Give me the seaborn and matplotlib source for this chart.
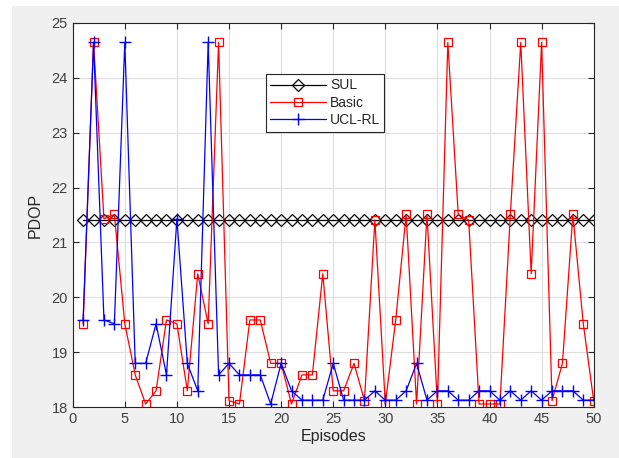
import numpy as np
import pandas as pd
import matplotlib
matplotlib.use("Agg")
import matplotlib.pyplot as plt
import seaborn as sns

episodes = list(range(1, 51))

sul = [21.4] * 50

basic = [19.52, 24.64, 21.43, 21.51, 19.52, 18.59, 18.06, 18.30, 19.59, 19.52,
         18.30, 20.43, 19.52, 24.64, 18.12, 18.06, 19.59, 19.59, 18.80, 18.80,
         18.06, 18.59, 18.59, 20.43, 18.30, 18.30, 18.80, 18.12, 21.41, 18.06,
         19.59, 21.51, 18.06, 21.51, 18.06, 24.64, 21.51, 21.41, 18.06, 18.06,
         18.06, 21.51, 24.64, 20.43, 24.64, 18.12, 18.80, 21.51, 19.52, 18.12]

ucl_rl = [19.59, 24.64, 19.59, 19.52, 24.64, 18.80, 18.80, 19.52, 18.59, 21.43,
          18.80, 18.30, 24.64, 18.59, 18.80, 18.59, 18.59, 18.59, 18.06, 18.80,
          18.30, 18.13, 18.13, 18.13, 18.80, 18.13, 18.13, 18.13, 18.30, 18.13,
          18.13, 18.30, 18.80, 18.13, 18.30, 18.30, 18.13, 18.13, 18.30, 18.30,
          18.13, 18.30, 18.13, 18.30, 18.13, 18.30, 18.30, 18.30, 18.13, 18.13]

df = pd.DataFrame({"Episodes": episodes, "SUL": sul, "Basic": basic, "UCL-RL": ucl_rl})

sns.set_style("white")
plt.rcParams['font.family'] = ['Liberation Sans', 'DejaVu Sans']

fig = plt.figure(figsize=(6.19, 4.58), dpi=100, facecolor="white")
# grey MATLAB-like window background (white strip on left/top like the screenshot)
fig.patches.append(plt.Rectangle((12 / 619, -0.1), 1.1, 1.1 - 6 / 458, transform=fig.transFigure,
                                 facecolor="#f0f0f0", edgecolor="none", zorder=-10))
ax = fig.add_axes([72.7 / 619, 1 - 407.3 / 458, (593.7 - 72.7) / 619, (407.3 - 22.7) / 458])
ax.set_facecolor("white")

sns.lineplot(data=df, x="Episodes", y="SUL", ax=ax, color="black", lw=0.9,
             marker="D", markersize=6.2, markerfacecolor="none", markeredgecolor="black",
             markeredgewidth=0.9, label="SUL")
sns.lineplot(data=df, x="Episodes", y="Basic", ax=ax, color="red", lw=0.9,
             marker="s", markersize=6.2, markerfacecolor="none", markeredgecolor="red",
             markeredgewidth=0.9, label="Basic")
sns.lineplot(data=df, x="Episodes", y="UCL-RL", ax=ax, color="blue", lw=0.9,
             marker="+", markersize=9, markeredgecolor="blue", markeredgewidth=1.0,
             label="UCL-RL")

ax.set_xlim(0, 50)
ax.set_ylim(18, 25)
ax.set_xticks(range(0, 51, 5))
ax.set_yticks(range(18, 26))
ax.grid(True, color="#dedede", lw=0.8)
ax.set_axisbelow(True)
for s in ax.spines.values():
    s.set_color("#262626")
    s.set_linewidth(0.8)
ax.tick_params(direction="in", length=4, width=0.8, color="#262626", labelsize=10.5,
               labelcolor="#404040", top=True, right=True, bottom=True, left=True)
ax.set_xlabel("Episodes", fontsize=11.5, color="#262626", labelpad=2)
ax.set_ylabel("PDOP", fontsize=11.5, color="#262626", labelpad=6)

leg = ax.legend(loc="upper left", bbox_to_anchor=(0.371, 0.866), borderaxespad=0,
                fontsize=10, frameon=True, fancybox=False, edgecolor="#262626",
                framealpha=1, handlelength=4.0, borderpad=0.3, labelspacing=0.25,
                handletextpad=0.3)
leg.get_frame().set_linewidth(0.8)

fig.savefig("out.png", dpi=100, facecolor=fig.get_facecolor())
